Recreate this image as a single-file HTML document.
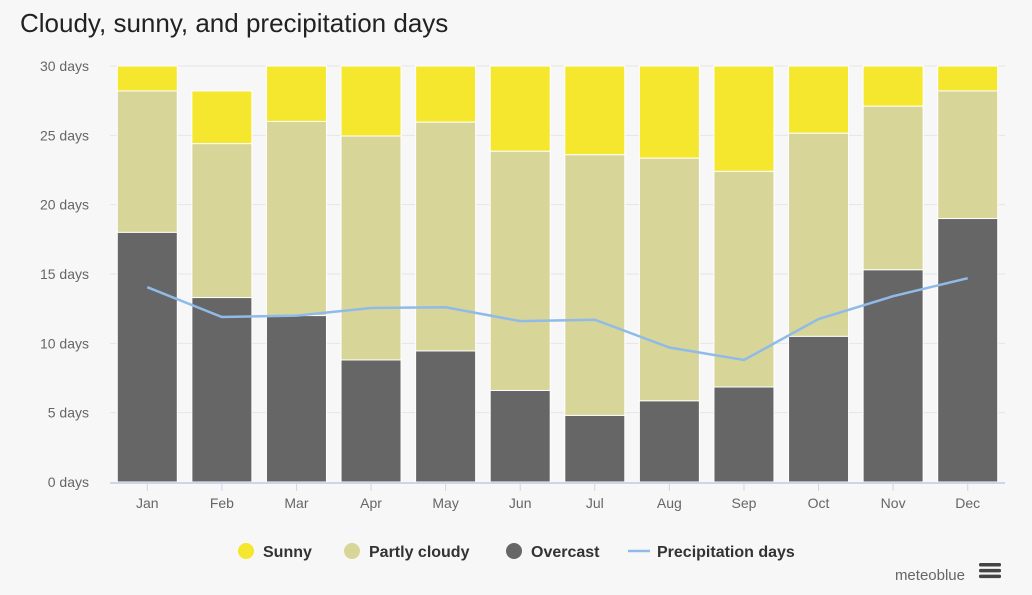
<!DOCTYPE html>
<html><head><meta charset="utf-8"><style>
body{margin:0;background:#f7f7f7;font-family:"Liberation Sans",sans-serif;}
#wrap{position:relative;width:1032px;height:595px;background:#f7f7f7;overflow:hidden}
h1{position:absolute;left:20px;top:8px;margin:0;font-weight:normal;font-size:26px;color:#222}
</style></head><body>
<div id="wrap">
<h1>Cloudy, sunny, and precipitation days</h1>
<svg id="chart" width="1032" height="595" style="position:absolute;left:0;top:0"></svg>
</div>
<script>
const months=["Jan","Feb","Mar","Apr","May","Jun","Jul","Aug","Sep","Oct","Nov","Dec"];
const monthDays=[31,28.2,31,30,31,30,31,31,30,31,30,31];
const overcast=[18,13.3,12,8.8,9.45,6.6,4.8,5.85,6.85,10.5,15.3,19];
const partlyCloudy=[10.2,11.1,14,16.15,16.5,17.25,18.8,17.5,15.55,14.65,11.8,9.2];
const precipitation=[14.05,11.9,12,12.55,12.6,11.6,11.7,9.7,8.8,11.75,13.4,14.7];
const yTicks=[0,5,10,15,20,25,30];
const NS="http://www.w3.org/2000/svg";
const svg=document.getElementById("chart");
const x0=110,x1=1005,y0=482,y1=66,ymax=30;
const band=(x1-x0)/months.length,bw=60;
const y=v=>y0-(Math.min(v,ymax)/ymax)*(y0-y1);
const xc=i=>x0+band*(i+0.5);
function mk(tag,attrs,name,txt){const e=document.createElementNS(NS,tag);for(const k in attrs)e.setAttribute(k,attrs[k]);


if(txt!==undefined)e.textContent=txt;svg.appendChild(e);return e;}
yTicks.forEach(t=>{
 if(t)mk("line",{x1:x0,x2:x1,y1:y(t),y2:y(t),stroke:"#e6e6e6","stroke-width":1},"gridline-"+t);
 mk("text",{x:89,y:y(t)+5,"text-anchor":"end","font-size":14,fill:"#666"},"y-tick-"+t,t+" days");
});
months.forEach((m,i)=>{
 const cx=xc(i),l=cx-bw/2;
 const o=overcast[i],p=partlyCloudy[i],tot=monthDays[i];
 mk("rect",{x:l,y:y(tot),width:bw,height:y(o+p)-y(tot),fill:"#f5e62e",stroke:"#fff","stroke-width":1},"bar-sunny-"+m.toLowerCase());
 mk("rect",{x:l,y:y(o+p),width:bw,height:y(o)-y(o+p),fill:"#d8d598",stroke:"#fff","stroke-width":1},"bar-partly-cloudy-"+m.toLowerCase());
 mk("rect",{x:l,y:y(o),width:bw,height:y(0)-y(o),fill:"#666666",stroke:"#fff","stroke-width":1},"bar-overcast-"+m.toLowerCase());
 mk("line",{x1:cx,x2:cx,y1:y0+1,y2:y0+9,stroke:"#ccd6eb"},"x-tick-mark");
 mk("text",{x:cx,y:508,"text-anchor":"middle","font-size":14,fill:"#666"},"x-tick-"+m.toLowerCase(),m);
});
mk("line",{x1:x0,x2:x1,y1:y0+1,y2:y0+1,stroke:"#ccd6eb","stroke-width":2},"x-axis-line");
mk("polyline",{points:precipitation.map((v,i)=>xc(i)+","+y(v)).join(" "),fill:"none",stroke:"#90bbe9","stroke-width":2.5},"precipitation-line");
const leg=[["Sunny","#f5e62e",237,"c"],["Partly cloudy","#d8d598",343,"c"],["Overcast","#666666",505,"c"],["Precipitation days","#90bbe9",628,"l"]];
leg.forEach(([n,c,lx,t])=>{
 if(t==="c")mk("circle",{cx:lx+9,cy:551,r:8,fill:c},"legend-marker-"+n.toLowerCase().replace(/ /g,"-"));
 else mk("line",{x1:lx,x2:lx+22,y1:551,y2:551,stroke:c,"stroke-width":2.5},"legend-marker-precipitation");
 const tx=mk("text",{x:lx+(t==="c"?26:29),y:557,"font-size":16,"font-weight":"bold",fill:"#333"},"legend-entry-"+n.toLowerCase().replace(/ /g,"-"),n);
 
});
mk("text",{x:965,y:580,"text-anchor":"end","font-size":15,fill:"#666"},"credit-meteoblue","meteoblue");
[0,7,14].forEach(d=>{mk("rect",{x:979,y:563+d/1.2,width:22,height:3.5,rx:1.5,fill:"#444"},"menu-icon-bar");});
const hb=mk("rect",{x:973,y:558,width:34,height:28,fill:"transparent"},"menu-button");

</script>
</body></html>
